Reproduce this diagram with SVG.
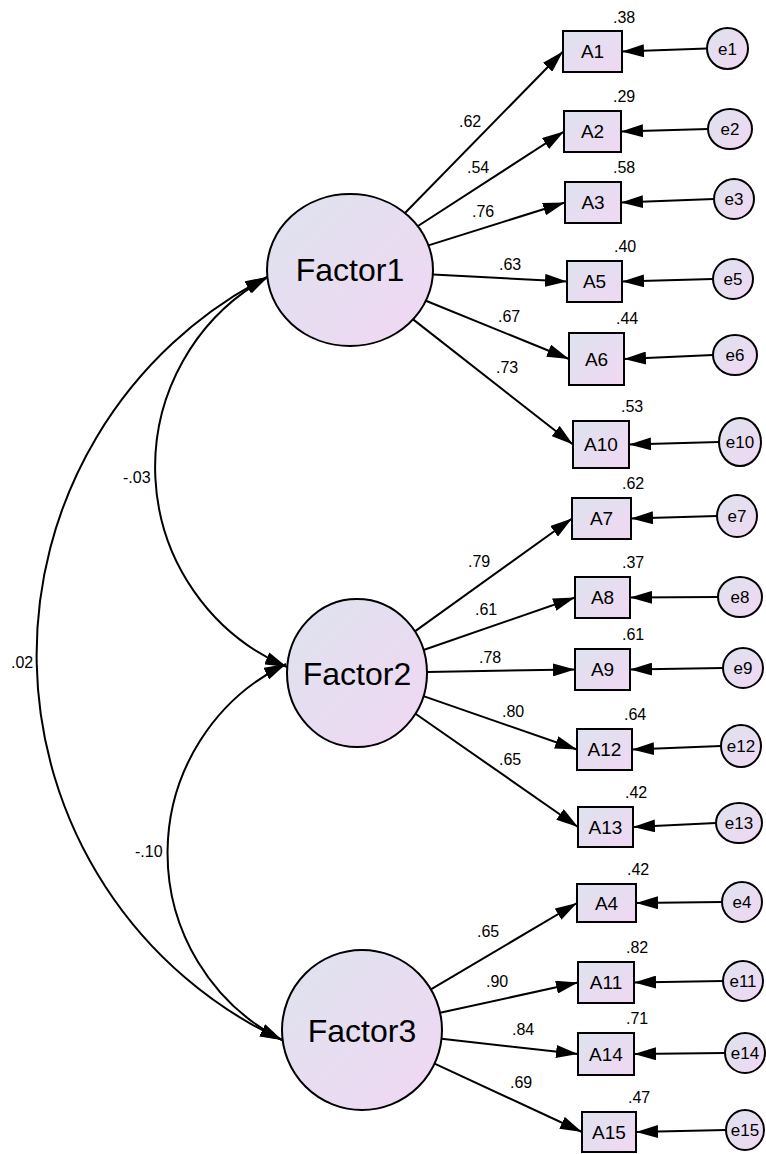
<svg xmlns="http://www.w3.org/2000/svg" width="766" height="1154" viewBox="0 0 766 1154">
<defs>
<linearGradient id="g" x1="0" y1="0" x2="1" y2="1">
<stop offset="0" stop-color="#dde3ee"/>
<stop offset="1" stop-color="#f1d7f3"/>
</linearGradient>
<marker id="ah" viewBox="0 0 22 13" refX="22" refY="6.5" markerWidth="22" markerHeight="13" markerUnits="userSpaceOnUse" orient="auto-start-reverse">
<path d="M0,0 L22,6.5 L0,13 Z" fill="#000"/>
</marker>
<style>
.n{fill:url(#g);stroke:#000;stroke-width:2}
text{font-family:"Liberation Sans",Arial,sans-serif;fill:#000}
.f{font-size:32px;text-anchor:middle}
.a{font-size:19px;text-anchor:middle}
.e{font-size:17px;text-anchor:middle}
.v{font-size:16px}
.k{font-size:16px}
.c line,.c path{stroke:#000;stroke-width:2;fill:none;marker-end:url(#ah)}
.c path.d{marker-start:url(#ah)}
</style>
</defs>
<rect width="766" height="1154" fill="#fff"/>

<g class="c" id="connectors">
<path class="d" d="M268 277 A217 217 0 0 0 287 667"/>
<path class="d" d="M267 277 A425 425 0 0 0 282 1040"/>
<path class="d" d="M286 664 A210 210 0 0 0 282 1040"/>
<line x1="405" y1="213" x2="563" y2="51.5"/>
<line x1="418" y1="226" x2="564" y2="131.5"/>
<line x1="428.5" y1="245.4" x2="565" y2="202.5"/>
<line x1="432.8" y1="274.4" x2="567" y2="281.5"/>
<line x1="425.9" y1="300.8" x2="569" y2="359"/>
<line x1="413.1" y1="319.4" x2="573" y2="444.5"/>
<line x1="414.9" y1="631.4" x2="572" y2="518.5"/>
<line x1="423.5" y1="650" x2="575" y2="597.5"/>
<line x1="427" y1="671.9" x2="575" y2="669.5"/>
<line x1="423.5" y1="696.1" x2="577" y2="749.5"/>
<line x1="415.5" y1="713.7" x2="578" y2="827"/>
<line x1="430.9" y1="989.3" x2="577" y2="903"/>
<line x1="440.1" y1="1012.8" x2="578" y2="982.5"/>
<line x1="441.5" y1="1038.8" x2="578" y2="1054"/>
<line x1="434.6" y1="1063.6" x2="582" y2="1132"/>
<line x1="707" y1="48.5" x2="622" y2="51.5"/>
<line x1="708" y1="129" x2="621" y2="131.5"/>
<line x1="714" y1="199" x2="621" y2="202.5"/>
<line x1="713" y1="279" x2="622" y2="281.5"/>
<line x1="713" y1="355" x2="624" y2="359"/>
<line x1="719" y1="442" x2="629" y2="444.5"/>
<line x1="717" y1="516" x2="631" y2="518.5"/>
<line x1="718" y1="597" x2="630" y2="597.5"/>
<line x1="723" y1="668" x2="630" y2="669.5"/>
<line x1="721" y1="746" x2="632" y2="749.5"/>
<line x1="716" y1="823" x2="633" y2="827"/>
<line x1="722" y1="902" x2="636" y2="903"/>
<line x1="723" y1="981" x2="634" y2="982.5"/>
<line x1="725" y1="1053" x2="634" y2="1054"/>
<line x1="726" y1="1130" x2="636" y2="1132"/>
</g>

<g id="coef-labels">
<text class="k" x="123" y="483">-.03</text>
<text class="k" x="11" y="668">.02</text>
<text class="k" x="135" y="857">-.10</text>
<text class="k" x="459" y="127">.62</text>
<text class="k" x="467" y="173">.54</text>
<text class="k" x="472" y="217">.76</text>
<text class="k" x="499" y="270">.63</text>
<text class="k" x="498" y="322">.67</text>
<text class="k" x="496" y="373">.73</text>
<text class="k" x="468" y="567">.79</text>
<text class="k" x="475" y="615">.61</text>
<text class="k" x="479" y="663">.78</text>
<text class="k" x="502" y="717">.80</text>
<text class="k" x="499" y="765">.65</text>
<text class="k" x="477" y="937">.65</text>
<text class="k" x="486" y="987">.90</text>
<text class="k" x="512" y="1035">.84</text>
<text class="k" x="510" y="1088">.69</text>
</g>

<g id="Factor1"><ellipse class="n" cx="350" cy="270" rx="83" ry="76"/><text class="f" x="350" y="281">Factor1</text></g>
<g id="Factor2"><ellipse class="n" cx="357" cy="673" rx="70" ry="74"/><text class="f" x="357" y="685">Factor2</text></g>
<g id="Factor3"><ellipse class="n" cx="362" cy="1030" rx="80" ry="80"/><text class="f" x="362" y="1042">Factor3</text></g>

<g id="A1"><rect class="n" x="563" y="31" width="59" height="41"/><text class="a" x="592.5" y="58">A1</text><text class="v" x="613" y="23">.38</text></g>
<g id="A2"><rect class="n" x="564" y="111" width="57" height="41"/><text class="a" x="592.5" y="138">A2</text><text class="v" x="613" y="102">.29</text></g>
<g id="A3"><rect class="n" x="565" y="182" width="56" height="41"/><text class="a" x="593" y="209">A3</text><text class="v" x="613" y="173">.58</text></g>
<g id="A5"><rect class="n" x="567" y="261" width="55" height="41"/><text class="a" x="594.5" y="288">A5</text><text class="v" x="614" y="252">.40</text></g>
<g id="A6"><rect class="n" x="569" y="333" width="55" height="52"/><text class="a" x="596.5" y="366">A6</text><text class="v" x="616" y="324">.44</text></g>
<g id="A10"><rect class="n" x="573" y="421" width="56" height="47"/><text class="a" x="601" y="451">A10</text><text class="v" x="621" y="412">.53</text></g>
<g id="A7"><rect class="n" x="572" y="498" width="59" height="41"/><text class="a" x="601.5" y="525">A7</text><text class="v" x="622" y="489">.62</text></g>
<g id="A8"><rect class="n" x="575" y="577" width="55" height="41"/><text class="a" x="602.5" y="604">A8</text><text class="v" x="622" y="568">.37</text></g>
<g id="A9"><rect class="n" x="575" y="649" width="55" height="41"/><text class="a" x="602.5" y="676">A9</text><text class="v" x="622" y="640">.61</text></g>
<g id="A12"><rect class="n" x="577" y="729" width="55" height="41"/><text class="a" x="604.5" y="756">A12</text><text class="v" x="624" y="720">.64</text></g>
<g id="A13"><rect class="n" x="578" y="807" width="55" height="40"/><text class="a" x="605.5" y="834">A13</text><text class="v" x="625" y="798">.42</text></g>
<g id="A4"><rect class="n" x="577" y="884" width="59" height="38"/><text class="a" x="606.5" y="910">A4</text><text class="v" x="627" y="875">.42</text></g>
<g id="A11"><rect class="n" x="578" y="962" width="56" height="41"/><text class="a" x="606" y="989">A11</text><text class="v" x="626" y="953">.82</text></g>
<g id="A14"><rect class="n" x="578" y="1033" width="56" height="42"/><text class="a" x="606" y="1061">A14</text><text class="v" x="626" y="1024">.71</text></g>
<g id="A15"><rect class="n" x="582" y="1112" width="54" height="40"/><text class="a" x="609" y="1139">A15</text><text class="v" x="628" y="1103">.47</text></g>

<g id="e1"><ellipse class="n" cx="727.5" cy="48.5" rx="20.5" ry="20.5"/><text class="e" x="727.5" y="54.5">e1</text></g>
<g id="e2"><ellipse class="n" cx="730" cy="129" rx="22" ry="20"/><text class="e" x="730" y="135">e2</text></g>
<g id="e3"><ellipse class="n" cx="734" cy="199" rx="20" ry="20"/><text class="e" x="734" y="205">e3</text></g>
<g id="e5"><ellipse class="n" cx="733" cy="279" rx="20" ry="20"/><text class="e" x="733" y="285">e5</text></g>
<g id="e6"><ellipse class="n" cx="735" cy="355" rx="22" ry="20"/><text class="e" x="735" y="361">e6</text></g>
<g id="e10"><ellipse class="n" cx="740" cy="442" rx="21" ry="24"/><text class="e" x="740" y="448">e10</text></g>
<g id="e7"><ellipse class="n" cx="737" cy="516" rx="20" ry="21"/><text class="e" x="737" y="522">e7</text></g>
<g id="e8"><ellipse class="n" cx="740" cy="597" rx="22" ry="20"/><text class="e" x="740" y="603">e8</text></g>
<g id="e9"><ellipse class="n" cx="743" cy="668" rx="20" ry="20"/><text class="e" x="743" y="674">e9</text></g>
<g id="e12"><ellipse class="n" cx="741" cy="746" rx="20" ry="21"/><text class="e" x="741" y="752">e12</text></g>
<g id="e13"><ellipse class="n" cx="739" cy="823" rx="23" ry="20"/><text class="e" x="739" y="829">e13</text></g>
<g id="e4"><ellipse class="n" cx="742" cy="902" rx="20" ry="20"/><text class="e" x="742" y="908">e4</text></g>
<g id="e11"><ellipse class="n" cx="743" cy="981" rx="20" ry="20"/><text class="e" x="743" y="987">e11</text></g>
<g id="e14"><ellipse class="n" cx="745" cy="1053" rx="20" ry="20"/><text class="e" x="745" y="1059">e14</text></g>
<g id="e15"><ellipse class="n" cx="745" cy="1130" rx="19" ry="20"/><text class="e" x="745" y="1136">e15</text></g>
</svg>
